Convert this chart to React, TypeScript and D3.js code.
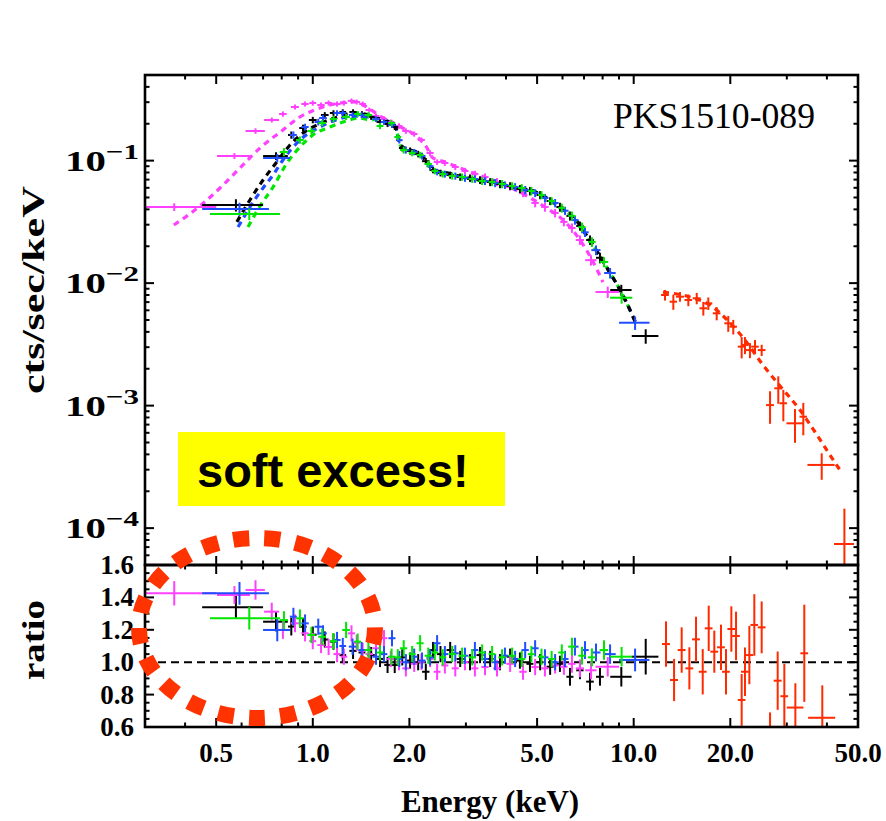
import React from "react";
import * as d3 from "d3";

// ---------- data: [energy keV, half-bin keV, value, error] ----------
const magentaSpec = [
  [0.37, 0.13, 0.0418, 0.003], [0.57, 0.067, 0.109, 0.006], [0.663, 0.046, 0.1745, 0.009],
  [0.745, 0.04, 0.2147, 0.01], [0.807, 0.022, 0.2402, 0.012], [0.88, 0.025, 0.2741, 0.013],
  [0.946, 0.025, 0.29, 0.014], [1.0, 0.025, 0.2954, 0.014], [1.061, 0.028, 0.2844, 0.014],
  [1.12, 0.03, 0.2954, 0.014], [1.19, 0.03, 0.29, 0.014], [1.25, 0.03, 0.2954, 0.014],
  [1.32, 0.035, 0.3074, 0.014], [1.37, 0.035, 0.3011, 0.014], [1.43, 0.035, 0.29, 0.014],
  [1.5, 0.04, 0.259, 0.012], [1.574, 0.04, 0.2313, 0.011], [1.667, 0.04, 0.2187, 0.011],
  [1.75, 0.045, 0.2067, 0.01], [1.856, 0.045, 0.1917, 0.01], [1.95, 0.05, 0.1745, 0.009],
  [2.07, 0.05, 0.165, 0.008], [2.18, 0.055, 0.1474, 0.007], [2.32, 0.06, 0.1154, 0.006],
  [2.44, 0.06, 0.0974, 0.005], [2.58, 0.065, 0.0956, 0.005], [2.78, 0.07, 0.0887, 0.005],
  [2.98, 0.075, 0.0823, 0.005], [3.2, 0.08, 0.0777, 0.005], [3.44, 0.09, 0.0735, 0.005],
  [3.75, 0.1, 0.0669, 0.005], [4.12, 0.11, 0.0609, 0.004], [4.52, 0.12, 0.0544, 0.004],
  [4.93, 0.13, 0.0451, 0.0035], [5.29, 0.14, 0.0418, 0.0035], [5.69, 0.15, 0.0374, 0.003],
  [6.06, 0.16, 0.0316, 0.0025], [6.42, 0.17, 0.0282, 0.0025], [6.8, 0.2, 0.0225, 0.002],
  [7.36, 0.3, 0.0154, 0.0015], [8.3, 0.7, 0.00846, 0.0009],
];
const blackSpec = [
  [0.576, 0.124, 0.0434, 0.005], [0.768, 0.068, 0.109, 0.008], [0.857, 0.02, 0.162, 0.011],
  [0.932, 0.025, 0.1846, 0.012], [1.0, 0.028, 0.2147, 0.013], [1.09, 0.03, 0.2357, 0.013],
  [1.16, 0.03, 0.2447, 0.013], [1.24, 0.03, 0.2495, 0.013], [1.335, 0.035, 0.2495, 0.013],
  [1.423, 0.035, 0.2402, 0.013], [1.52, 0.04, 0.227, 0.012], [1.62, 0.04, 0.2067, 0.011],
  [1.71, 0.04, 0.199, 0.011], [1.8, 0.045, 0.1881, 0.01], [1.9, 0.045, 0.1268, 0.008],
  [2.01, 0.05, 0.12, 0.008], [2.13, 0.055, 0.1133, 0.007], [2.25, 0.06, 0.099, 0.006],
  [2.37, 0.06, 0.0838, 0.005], [2.5, 0.065, 0.0793, 0.005], [2.68, 0.07, 0.0763, 0.005],
  [2.88, 0.075, 0.0735, 0.005], [3.09, 0.08, 0.0721, 0.005], [3.32, 0.085, 0.0695, 0.005],
  [3.57, 0.09, 0.0669, 0.005], [3.83, 0.1, 0.0645, 0.005], [4.12, 0.105, 0.0621, 0.0045],
  [4.42, 0.115, 0.0587, 0.0045], [4.75, 0.12, 0.0565, 0.0045], [5.11, 0.13, 0.0524, 0.004],
  [5.49, 0.14, 0.0468, 0.0035], [5.89, 0.15, 0.0418, 0.0035], [6.33, 0.16, 0.0354, 0.003],
  [6.8, 0.18, 0.0293, 0.0025], [7.31, 0.2, 0.0225, 0.002], [7.85, 0.22, 0.0161, 0.0016],
  [9.15, 0.7, 0.00879, 0.0009], [10.9, 1.04, 0.0037, 0.0005],
];
const blueSpec = [
  [0.591, 0.139, 0.0403, 0.005], [0.775, 0.075, 0.105, 0.008], [0.87, 0.022, 0.162, 0.011],
  [0.946, 0.025, 0.188, 0.012], [1.04, 0.028, 0.2067, 0.013], [1.076, 0.03, 0.2228, 0.013],
  [1.19, 0.03, 0.2447, 0.013], [1.24, 0.03, 0.2447, 0.013], [1.33, 0.035, 0.2357, 0.013],
  [1.42, 0.035, 0.2357, 0.013], [1.574, 0.04, 0.2187, 0.012], [1.667, 0.04, 0.2067, 0.011],
  [1.765, 0.045, 0.195, 0.01], [1.86, 0.045, 0.147, 0.009], [1.95, 0.05, 0.1221, 0.008],
  [2.07, 0.05, 0.1176, 0.007], [2.19, 0.055, 0.1091, 0.007], [2.32, 0.06, 0.09, 0.006],
  [2.44, 0.06, 0.0808, 0.005], [2.58, 0.065, 0.0777, 0.005], [2.78, 0.07, 0.0749, 0.005],
  [2.98, 0.075, 0.0721, 0.005], [3.2, 0.08, 0.0708, 0.005], [3.44, 0.09, 0.0682, 0.005],
  [3.7, 0.095, 0.0657, 0.005], [3.97, 0.1, 0.0632, 0.0045], [4.27, 0.11, 0.0609, 0.0045],
  [4.59, 0.12, 0.0576, 0.0045], [4.93, 0.125, 0.0544, 0.004], [5.29, 0.135, 0.0495, 0.004],
  [5.69, 0.145, 0.0451, 0.0035], [6.11, 0.155, 0.039, 0.003], [6.56, 0.17, 0.0327, 0.0027],
  [7.05, 0.19, 0.026, 0.0022], [7.63, 0.25, 0.0186, 0.0017], [8.44, 0.35, 0.0121, 0.0012],
  [10.1, 1.1, 0.00475, 0.0006],
];
const greenSpec = [
  [0.634, 0.156, 0.0367, 0.004], [0.813, 0.024, 0.1176, 0.009], [0.912, 0.025, 0.1474, 0.01],
  [0.99, 0.028, 0.1745, 0.011], [1.07, 0.03, 0.2029, 0.012], [1.16, 0.03, 0.2187, 0.013],
  [1.27, 0.035, 0.227, 0.013], [1.38, 0.035, 0.2402, 0.013], [1.49, 0.04, 0.2357, 0.013],
  [1.62, 0.04, 0.1917, 0.011], [1.76, 0.045, 0.2029, 0.011], [1.84, 0.045, 0.1559, 0.009],
  [1.92, 0.05, 0.1221, 0.008], [2.04, 0.05, 0.1154, 0.007], [2.16, 0.055, 0.1111, 0.007],
  [2.29, 0.06, 0.0938, 0.006], [2.4, 0.06, 0.0823, 0.005], [2.54, 0.065, 0.0777, 0.005],
  [2.72, 0.07, 0.0749, 0.005], [2.92, 0.075, 0.0735, 0.005], [3.14, 0.08, 0.0708, 0.005],
  [3.37, 0.085, 0.0682, 0.005], [3.62, 0.09, 0.0669, 0.005], [3.89, 0.1, 0.0645, 0.005],
  [4.18, 0.105, 0.0621, 0.0045], [4.48, 0.115, 0.0598, 0.0045], [4.8, 0.12, 0.0565, 0.0045],
  [5.16, 0.13, 0.0524, 0.004], [5.55, 0.14, 0.0468, 0.0035], [5.97, 0.15, 0.0411, 0.0035],
  [6.42, 0.17, 0.0354, 0.003], [6.9, 0.18, 0.0287, 0.0025], [7.41, 0.2, 0.0217, 0.002],
  [8.08, 0.25, 0.0149, 0.0014], [9.17, 0.73, 0.0076, 0.0008],
];
const redSpec = [
  [12.52, 0.35, 0.008, 0.0008], [13.29, 0.35, 0.00705, 0.001], [13.94, 0.4, 0.00775, 0.0007],
  [14.8, 0.4, 0.00728, 0.0008], [15.72, 0.45, 0.00752, 0.0008], [16.48, 0.45, 0.00623, 0.0008],
  [17.08, 0.5, 0.00684, 0.0008], [18.14, 0.5, 0.00567, 0.0007], [19.71, 0.55, 0.0047, 0.0007],
  [20.43, 0.55, 0.00441, 0.0006], [21.7, 0.6, 0.00303, 0.0006], [22.22, 0.6, 0.00313, 0.0005],
  [23.03, 0.65, 0.00284, 0.0004], [23.88, 0.65, 0.00303, 0.0004], [25.05, 0.7, 0.00284, 0.0003],
  [26.6, 0.75, 0.00101, 0.0003], [28.22, 0.8, 0.001385, 0.00035], [29.26, 0.8, 0.001045, 0.0003],
  [31.82, 1.9, 0.000717, 0.00022], [33.77, 0.9, 0.000812, 0.00024], [38.54, 3.75, 0.000328, 0.00008],
  [45.35, 3.25, 0.0000742, 0.00007],
];

// ---------- folded models: [energy keV, value] ----------
const modelBand = [
  [1.62, 0.2187], [1.804, 0.1917], [1.88, 0.1316], [2.008, 0.1221], [2.158, 0.1133],
  [2.269, 0.0974], [2.369, 0.0838], [2.62, 0.0793], [3.02, 0.0721], [3.39, 0.0682],
  [3.83, 0.0657], [4.33, 0.0598], [4.86, 0.0565], [5.29, 0.0505], [5.89, 0.0418],
  [6.66, 0.032], [7.15, 0.0242], [7.85, 0.0166], [8.44, 0.0121], [9.07, 0.00879],
  [9.74, 0.00603], [10.24, 0.00447],
];
const blackModelLow = [
  [0.58, 0.0316], [0.637, 0.0477], [0.7, 0.0695], [0.768, 0.0956], [0.849, 0.1341],
  [0.932, 0.168], [1.031, 0.1954], [1.198, 0.227], [1.335, 0.2447], [1.454, 0.2402],
];
const blueModelLow = [
  [0.585, 0.0287], [0.637, 0.0418], [0.7, 0.0598], [0.752, 0.0763], [0.807, 0.1012],
  [0.912, 0.1474], [1.053, 0.1881], [1.181, 0.2147], [1.335, 0.2313], [1.508, 0.227],
];
const greenModelLow = [
  [0.628, 0.0287], [0.685, 0.0426], [0.752, 0.0609], [0.831, 0.0956], [0.912, 0.1292],
  [1.0, 0.1619], [1.131, 0.1881], [1.242, 0.2067], [1.403, 0.2228], [1.508, 0.2147],
];
const magentaModel = [
  [0.369, 0.0298], [0.445, 0.0426], [0.514, 0.0598], [0.593, 0.0871], [0.685, 0.1268],
  [0.807, 0.1778], [0.912, 0.227], [1.053, 0.269], [1.216, 0.2954], [1.354, 0.3011],
  [1.454, 0.2792], [1.62, 0.2313], [1.88, 0.1881], [2.1, 0.1589], [2.25, 0.1316],
  [2.37, 0.105], [2.58, 0.0974], [3.09, 0.0808], [3.83, 0.0657], [4.59, 0.0524],
  [5.29, 0.0418], [6.11, 0.0316], [6.8, 0.0225], [7.31, 0.0166], [8.02, 0.0102],
];
const redModel = [
  [12.34, 0.00846], [14.98, 0.0077], [17.29, 0.00663], [19.96, 0.00473], [22.22, 0.00343],
  [25.28, 0.002147], [28.57, 0.001446], [32.98, 0.000921], [36.73, 0.000609],
  [40.9, 0.000395], [43.95, 0.000298],
];

// ---------- ratio panel: [energy keV, half-bin keV, ratio, error] ----------
const magentaRatio = [
  [0.37, 0.13, 1.425, 0.075], [0.57, 0.067, 1.415, 0.055], [0.663, 0.046, 1.446, 0.06],
  [0.745, 0.04, 1.312, 0.055], [0.807, 0.022, 1.199, 0.055], [0.88, 0.025, 1.24, 0.055],
  [0.946, 0.025, 1.178, 0.05], [1.0, 0.025, 1.13, 0.05], [1.061, 0.028, 1.106, 0.05],
  [1.12, 0.03, 1.094, 0.05], [1.19, 0.03, 1.05, 0.05], [1.25, 0.03, 1.034, 0.05],
  [1.32, 0.035, 1.178, 0.05], [1.37, 0.035, 1.12, 0.05], [1.43, 0.035, 1.07, 0.05],
  [1.5, 0.04, 1.05, 0.05], [1.574, 0.04, 1.086, 0.05], [1.667, 0.04, 1.148, 0.05],
  [1.75, 0.045, 1.02, 0.05], [1.856, 0.045, 1.0, 0.05], [1.95, 0.05, 0.962, 0.05],
  [2.07, 0.05, 0.99, 0.05], [2.18, 0.055, 1.003, 0.05], [2.32, 0.06, 1.02, 0.05],
  [2.44, 0.06, 0.941, 0.05], [2.58, 0.065, 0.98, 0.05], [2.78, 0.07, 0.962, 0.05],
  [2.98, 0.075, 1.0, 0.05], [3.2, 0.08, 0.962, 0.05], [3.44, 0.09, 0.97, 0.05],
  [3.75, 0.1, 0.962, 0.05], [4.12, 0.11, 0.99, 0.05], [4.52, 0.12, 0.941, 0.05],
  [4.93, 0.13, 0.97, 0.05], [5.29, 0.14, 0.962, 0.05], [5.69, 0.15, 0.98, 0.05],
  [6.06, 0.16, 0.972, 0.05], [6.42, 0.17, 0.99, 0.055], [6.8, 0.2, 0.962, 0.055],
  [7.36, 0.3, 0.95, 0.055], [8.3, 0.7, 0.972, 0.06],
];
const blackRatio = [
  [0.576, 0.124, 1.339, 0.07], [0.768, 0.068, 1.25, 0.06], [0.857, 0.02, 1.22, 0.055],
  [0.932, 0.025, 1.219, 0.055], [1.0, 0.028, 1.17, 0.05], [1.09, 0.03, 1.14, 0.05],
  [1.16, 0.03, 1.127, 0.05], [1.24, 0.03, 1.044, 0.05], [1.335, 0.035, 1.07, 0.05],
  [1.423, 0.035, 1.06, 0.05], [1.52, 0.04, 1.044, 0.05], [1.62, 0.04, 1.02, 0.05],
  [1.71, 0.04, 0.983, 0.05], [1.8, 0.045, 0.983, 0.05], [1.9, 0.045, 1.03, 0.05],
  [2.01, 0.05, 1.01, 0.05], [2.13, 0.055, 1.0, 0.05], [2.25, 0.06, 0.941, 0.05],
  [2.37, 0.06, 1.075, 0.05], [2.5, 0.065, 1.05, 0.05], [2.68, 0.07, 1.075, 0.05],
  [2.88, 0.075, 1.02, 0.05], [3.09, 0.08, 1.0, 0.05], [3.32, 0.085, 1.044, 0.05],
  [3.57, 0.09, 1.02, 0.05], [3.83, 0.1, 1.0, 0.05], [4.12, 0.105, 1.034, 0.05],
  [4.42, 0.115, 1.01, 0.05], [4.75, 0.12, 0.99, 0.05], [5.11, 0.13, 1.0, 0.05],
  [5.49, 0.14, 0.972, 0.05], [5.89, 0.15, 0.99, 0.05], [6.33, 0.16, 0.91, 0.055],
  [6.8, 0.18, 0.95, 0.055], [7.31, 0.2, 0.88, 0.055], [7.85, 0.22, 0.91, 0.055],
  [9.15, 0.7, 0.91, 0.06], [10.9, 1.04, 1.034, 0.11],
];
const blueRatio = [
  [0.591, 0.139, 1.425, 0.07], [0.775, 0.075, 1.199, 0.07], [0.87, 0.022, 1.281, 0.055],
  [0.946, 0.025, 1.24, 0.055], [1.04, 0.028, 1.219, 0.05], [1.076, 0.03, 1.178, 0.05],
  [1.19, 0.03, 1.137, 0.05], [1.24, 0.03, 1.1, 0.05], [1.33, 0.035, 1.096, 0.05],
  [1.42, 0.035, 1.075, 0.05], [1.574, 0.04, 1.034, 0.05], [1.667, 0.04, 1.05, 0.05],
  [1.765, 0.045, 1.148, 0.05], [1.86, 0.045, 1.02, 0.05], [1.95, 0.05, 1.0, 0.05],
  [2.07, 0.05, 1.034, 0.05], [2.19, 0.055, 1.01, 0.05], [2.32, 0.06, 1.03, 0.05],
  [2.44, 0.06, 1.117, 0.05], [2.58, 0.065, 1.05, 0.05], [2.78, 0.07, 1.055, 0.05],
  [2.98, 0.075, 1.04, 0.05], [3.2, 0.08, 1.075, 0.05], [3.44, 0.09, 1.02, 0.05],
  [3.7, 0.095, 1.0, 0.05], [3.97, 0.1, 1.04, 0.05], [4.27, 0.11, 1.02, 0.05],
  [4.59, 0.12, 1.075, 0.05], [4.93, 0.125, 1.086, 0.05], [5.29, 0.135, 1.03, 0.05],
  [5.69, 0.145, 1.0, 0.05], [6.11, 0.155, 1.02, 0.05], [6.56, 0.17, 1.096, 0.055],
  [7.05, 0.19, 1.075, 0.055], [7.63, 0.25, 1.06, 0.055], [8.44, 0.35, 1.05, 0.06],
  [10.1, 1.1, 1.014, 0.07],
];
const greenRatio = [
  [0.634, 0.156, 1.271, 0.07], [0.813, 0.024, 1.26, 0.055], [0.912, 0.025, 1.271, 0.055],
  [0.99, 0.028, 1.168, 0.05], [1.07, 0.03, 1.157, 0.05], [1.16, 0.03, 1.13, 0.05],
  [1.27, 0.035, 1.199, 0.05], [1.38, 0.035, 1.127, 0.05], [1.49, 0.04, 1.075, 0.05],
  [1.62, 0.04, 1.06, 0.05], [1.76, 0.045, 1.034, 0.05], [1.84, 0.045, 1.03, 0.05],
  [1.92, 0.05, 1.086, 0.05], [2.04, 0.05, 1.05, 0.05], [2.16, 0.055, 1.117, 0.05],
  [2.29, 0.06, 1.04, 0.05], [2.4, 0.06, 1.06, 0.05], [2.54, 0.065, 1.03, 0.05],
  [2.72, 0.07, 1.05, 0.05], [2.92, 0.075, 1.04, 0.05], [3.14, 0.08, 1.03, 0.05],
  [3.37, 0.085, 1.06, 0.05], [3.62, 0.09, 1.05, 0.05], [3.89, 0.1, 1.03, 0.05],
  [4.18, 0.105, 1.04, 0.05], [4.48, 0.115, 1.02, 0.05], [4.8, 0.12, 1.05, 0.05],
  [5.16, 0.13, 1.034, 0.05], [5.55, 0.14, 1.02, 0.05], [5.97, 0.15, 1.06, 0.05],
  [6.42, 0.17, 1.096, 0.055], [6.9, 0.18, 1.04, 0.055], [7.41, 0.2, 1.03, 0.055],
  [8.08, 0.25, 1.075, 0.06], [9.17, 0.73, 1.034, 0.06],
];
const redRatio = [
  [12.61, 0.36, 1.112, 0.14], [13.36, 0.38, 0.89, 0.13], [14.11, 0.4, 1.075, 0.14],
  [14.91, 0.42, 0.962, 0.13], [15.64, 0.44, 1.141, 0.14], [16.41, 0.46, 0.941, 0.14],
  [17.13, 0.48, 1.209, 0.14], [17.83, 0.5, 1.065, 0.13], [18.71, 0.52, 1.092, 0.14],
  [19.39, 0.54, 0.941, 0.14], [20.15, 0.56, 1.205, 0.14], [20.84, 0.58, 1.162, 0.15],
  [21.7, 0.6, 0.767, 0.16], [22.22, 0.62, 0.941, 0.15], [22.93, 0.64, 1.044, 0.18],
  [23.76, 0.66, 1.23, 0.19], [25.05, 0.7, 1.215, 0.16], [26.6, 0.75, 0.5, 0.19],
  [28.1, 0.8, 0.886, 0.18], [29.47, 0.82, 0.79, 0.2], [31.9, 1.9, 0.72, 0.15],
  [34.01, 0.95, 1.055, 0.3], [38.7, 3.75, 0.657, 0.2],
];

// ---------- axis ticks ----------
const xMajor = [0.5, 1, 2, 5, 10, 20, 50];
const xMajorLabels = ["0.5", "1.0", "2.0", "5.0", "10.0", "20.0", "50.0"];
const xMinor = [0.3, 0.4, 0.6, 0.7, 0.8, 0.9, 3, 4, 6, 7, 8, 9, 30, 40];
const yMajor = [1e-4, 1e-3, 1e-2, 1e-1];
const yMajorExp = ["\u22124", "\u22123", "\u22122", "\u22121"];
const rMajor = [0.6, 0.8, 1.0, 1.2, 1.4, 1.6];
const rMajorLabels = ["0.6", "0.8", "1.0", "1.2", "1.4", "1.6"];

const COLORS = {
  black: "#000000",
  magenta: "#ff40ff",
  blue: "#1f4dff",
  green: "#00e600",
  red: "#ff2a00",
};

const W = 886, H = 821;
const L = 145, R = 858, T = 75, M = 565, B = 727;
const SERIF = "'Liberation Serif', 'DejaVu Serif', serif";

export default function App() {
  const x = d3.scaleLog().domain([0.3, 50]).range([L, R]);
  const yT = d3.scaleLog().domain([5e-5, 0.5]).range([M, T]);
  const yR = d3.scaleLinear().domain([0.6, 1.6]).range([B, M]);
  const safe = (v: number) => Math.max(v, 1e-7);

  const modelLine = d3
    .line<number[]>()
    .x((d) => x(d[0]))
    .y((d) => yT(d[1]))
    .curve(d3.curveMonotoneX);

  const crossesTop = (data: number[][], color: string, key: string) =>
    data.map((d, i) => (
      <g key={key + i} stroke={color} strokeWidth={2}>
        <line x1={x(Math.max(d[0] - d[1], 0.01))} x2={x(d[0] + d[1])} y1={yT(d[2])} y2={yT(d[2])} />
        <line x1={x(d[0])} x2={x(d[0])} y1={yT(safe(d[2] - d[3]))} y2={yT(d[2] + d[3])} />
      </g>
    ));
  const crossesRatio = (data: number[][], color: string, key: string) =>
    data.map((d, i) => (
      <g key={key + i} stroke={color} strokeWidth={2}>
        <line x1={x(Math.max(d[0] - d[1], 0.01))} x2={x(d[0] + d[1])} y1={yR(d[2])} y2={yR(d[2])} />
        <line x1={x(d[0])} x2={x(d[0])} y1={yR(d[2] - d[3])} y2={yR(d[2] + d[3])} />
      </g>
    ));

  const yMinor = yT.ticks().filter((v) => !yMajor.some((m) => Math.abs(m - v) / m < 1e-6));
  const rMinor = d3.range(0.6, 1.6001, 0.05).filter((v) => !rMajor.some((m) => Math.abs(m - v) < 1e-6));

  const tickW = 2;
  const major = 9, minor = 4.5;

  return (
    <svg
      width={W}
      height={H}
      style={{ position: "absolute", left: 0, top: 0, display: "block", background: "#fff" }}
    >
      <defs>
        <clipPath id="clipTop">
          <rect x={L} y={T} width={R - L} height={M - T} />
        </clipPath>
        <clipPath id="clipRat">
          <rect x={L} y={M} width={R - L} height={B - M} />
        </clipPath>
      </defs>
      <rect x={0} y={0} width={W} height={H} fill="#fff" />

      {/* top panel: models then data */}
      <g clipPath="url(#clipTop)">
        <g fill="none" strokeWidth={3.2} strokeDasharray="6 5">
          <path d={modelLine(magentaModel) || ""} stroke={COLORS.magenta} />
          <path d={modelLine([...greenModelLow, ...modelBand.slice(0, -1)]) || ""} stroke={COLORS.green} />
          <path d={modelLine([...blueModelLow, ...modelBand]) || ""} stroke={COLORS.blue} />
          <path d={modelLine([...blackModelLow, ...modelBand]) || ""} stroke={COLORS.black} />
          <path d={modelLine(redModel) || ""} stroke={COLORS.red} />
        </g>
        {crossesTop(magentaSpec, COLORS.magenta, "ms")}
        {crossesTop(blackSpec, COLORS.black, "bs")}
        {crossesTop(blueSpec, COLORS.blue, "us")}
        {crossesTop(greenSpec, COLORS.green, "gs")}
        {crossesTop(redSpec, COLORS.red, "rs")}
      </g>

      {/* ratio panel data */}
      <g clipPath="url(#clipRat)">
        <line x1={L} x2={R} y1={yR(1)} y2={yR(1)} stroke="#000" strokeWidth={2} strokeDasharray="8 5" />
        {crossesRatio(blackRatio, COLORS.black, "br")}
        {crossesRatio(magentaRatio, COLORS.magenta, "mr")}
        {crossesRatio(blueRatio, COLORS.blue, "ur")}
        {crossesRatio(greenRatio, COLORS.green, "gr")}
        {crossesRatio(redRatio, COLORS.red, "rr")}
      </g>

      {/* ticks */}
      <g stroke="#000" strokeWidth={tickW}>
        {xMajor.map((v, i) => (
          <g key={"xM" + i}>
            <line x1={x(v)} x2={x(v)} y1={T} y2={T + major} />
            <line x1={x(v)} x2={x(v)} y1={M - major} y2={M + major} />
            <line x1={x(v)} x2={x(v)} y1={B} y2={B - major} />
          </g>
        ))}
        {xMinor.map((v, i) => (
          <g key={"xm" + i}>
            <line x1={x(v)} x2={x(v)} y1={T} y2={T + minor} />
            <line x1={x(v)} x2={x(v)} y1={M - minor} y2={M + minor} />
            <line x1={x(v)} x2={x(v)} y1={B} y2={B - minor} />
          </g>
        ))}
        {yMajor.map((v, i) => (
          <g key={"yM" + i}>
            <line x1={L} x2={L + major} y1={yT(v)} y2={yT(v)} />
            <line x1={R} x2={R - major} y1={yT(v)} y2={yT(v)} />
          </g>
        ))}
        {yMinor.map((v, i) => (
          <g key={"ym" + i}>
            <line x1={L} x2={L + minor} y1={yT(v)} y2={yT(v)} />
            <line x1={R} x2={R - minor} y1={yT(v)} y2={yT(v)} />
          </g>
        ))}
        {rMajor.map((v, i) => (
          <g key={"rM" + i}>
            <line x1={L} x2={L + major} y1={yR(v)} y2={yR(v)} />
            <line x1={R} x2={R - major} y1={yR(v)} y2={yR(v)} />
          </g>
        ))}
        {rMinor.map((v, i) => (
          <g key={"rm" + i}>
            <line x1={L} x2={L + minor} y1={yR(v)} y2={yR(v)} />
            <line x1={R} x2={R - minor} y1={yR(v)} y2={yR(v)} />
          </g>
        ))}
      </g>

      {/* frames */}
      <g fill="none" stroke="#000" strokeWidth={2.6}>
        <rect x={L} y={T} width={R - L} height={M - T} />
        <rect x={L} y={M} width={R - L} height={B - M} />
      </g>

      {/* tick labels */}
      <g fontFamily={SERIF} fontWeight="bold" fill="#000">
        {xMajor.map((v, i) => (
          <text key={"xl" + i} x={x(v)} y={762} fontSize={27} textAnchor="middle">
            {xMajorLabels[i]}
          </text>
        ))}
        {yMajor.map((v, i) => (
          <text
            key={"yl" + i}
            x={139}
            y={yT(v) + 10}
            fontSize={29}
            textAnchor="end"
            textLength={74}
            lengthAdjust="spacingAndGlyphs"
          >
            10
            <tspan dy={-12} fontSize={22}>
              {yMajorExp[i]}
            </tspan>
          </text>
        ))}
        {rMajor.map((v, i) => (
          <text key={"rl" + i} x={134} y={yR(v) + 9} fontSize={27} textAnchor="end">
            {rMajorLabels[i]}
          </text>
        ))}
        <text
          transform={`translate(44, 290) rotate(-90)`}
          fontSize={31}
          textAnchor="middle"
          textLength={208}
          lengthAdjust="spacingAndGlyphs"
        >
          cts/sec/keV
        </text>
        <text
          transform={`translate(44, 640) rotate(-90)`}
          fontSize={31}
          textAnchor="middle"
          textLength={80}
          lengthAdjust="spacingAndGlyphs"
        >
          ratio
        </text>
        <text x={490} y={812} fontSize={31} textAnchor="middle">
          Energy (keV)
        </text>
      </g>
      <text x={613} y={128} fontFamily={SERIF} fontSize={35} fill="#000" textLength={202} lengthAdjust="spacingAndGlyphs">
        PKS1510-089
      </text>

      {/* annotation */}
      <rect x={178} y={432} width={327} height={74} fill="#ffff00" />
      <text
        x={197}
        y={487}
        fontFamily="'Liberation Sans', Arial, sans-serif"
        fontWeight="bold"
        fontSize={47}
        fill="#000"
      >
        soft excess!
      </text>
      <ellipse
        cx={257}
        cy={628}
        rx={118}
        ry={90}
        fill="none"
        stroke="#ff3300"
        strokeWidth={16}
        strokeDasharray="16 15.2"
      />
    </svg>
  );
}
